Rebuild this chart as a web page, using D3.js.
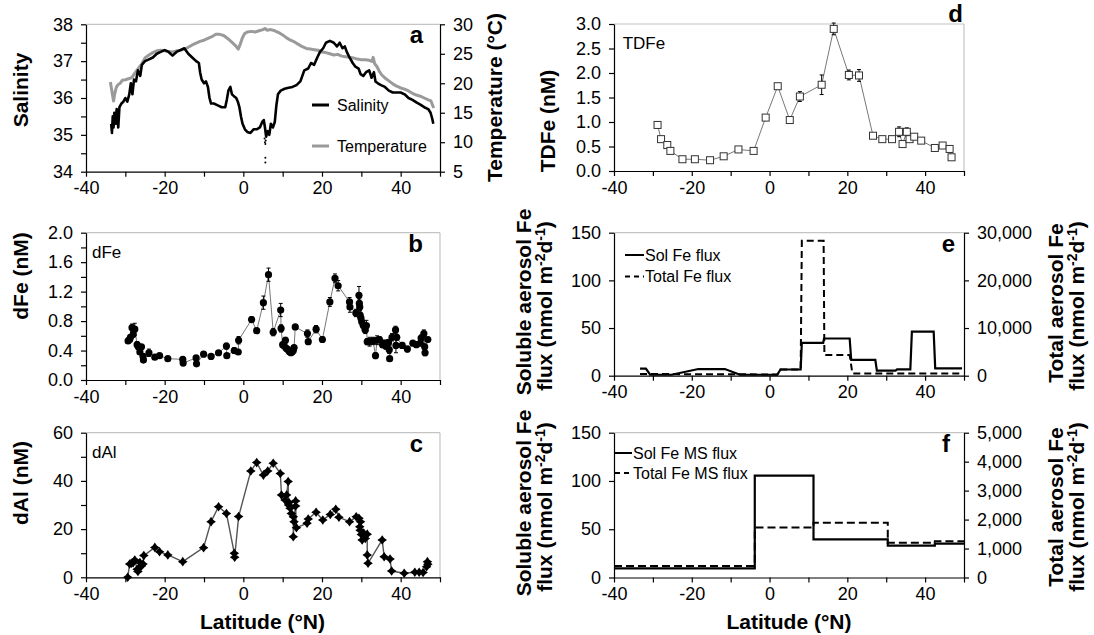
<!DOCTYPE html>
<html><head><meta charset="utf-8">
<script src="https://cdn.jsdelivr.net/npm/d3@7"></script>
<style>
body{margin:0;background:#fff;}
svg{font-family:"Liberation Sans",Arial,Helvetica,sans-serif;}
</style></head><body>
<svg id="c" width="1094" height="635"></svg>
<script>
// ---------- DATA ----------
const latTicks = [-40,-30,-20,-10,0,10,20,30,40,50];

// (a) underway salinity & temperature
const salLat = [-33.6,-33.4,-33.2,-33.0,-32.8,-32.5,-32.2,-31.8,-31.5,-31.0,-30.5,-30.0,-29.5,-29.0,-28.6,-28.2,-27.8,-27.3,-26.8,-26.2,-25.8,-25.0,-24.0,-23.0,-22.0,-21.0,-20.0,-19.0,-18.0,-17.0,-16.0,-15.0,-14.0,-13.0,-12.0,-11.3,-11.0,-10.6,-10.0,-9.5,-9.0,-8.6,-8.2,-7.5,-6.5,-5.5,-4.6,-4.2,-3.8,-3.3,-2.9,-2.4,-1.8,-1.4,-1.0,-0.6,-0.2,0.4,1.0,1.8,2.6,3.4,4.2,4.8,5.2,5.5,5.8,6.2,6.6,7.0,7.5,8.0,8.4,8.8,9.5,10.5,11.5,12.5,13.5,14.5,15.0,15.5,16.5,17.2,18.0,18.8,19.5,20.3,21.0,22.0,23.0,23.8,24.5,25.2,25.8,26.3,27.0,27.8,28.5,29.3,29.8,30.5,31.2,32.0,32.6,33.2,33.6,34.2,35.0,36.0,37.0,38.0,39.0,40.0,41.0,42.0,43.0,44.0,45.0,46.0,47.0,47.6,48.0,48.3];
const salVal = [35.3,35.05,35.5,35.2,35.6,35.3,35.7,35.2,35.75,35.85,35.9,36.0,35.9,36.1,36.4,36.1,36.5,36.45,36.75,36.6,36.9,37.0,37.05,37.1,37.2,37.25,37.3,37.25,37.15,37.25,37.3,37.35,37.2,37.1,37.0,36.95,36.7,36.5,36.4,36.45,36.3,36.0,35.85,35.85,35.8,35.75,35.75,35.95,36.2,36.3,36.1,36.05,36.0,35.9,35.75,35.5,35.3,35.15,35.08,35.05,35.15,35.15,35.2,35.35,35.4,35.2,34.95,35.1,35.0,35.3,35.2,35.35,35.8,36.1,36.2,36.25,36.28,36.3,36.35,36.45,36.6,36.75,36.8,36.95,36.9,37.1,37.25,37.35,37.5,37.55,37.5,37.4,37.5,37.35,37.4,37.25,37.1,36.95,36.85,36.8,36.65,36.6,36.7,36.75,36.55,36.7,36.45,36.4,36.35,36.3,36.2,36.15,36.15,36.15,36.1,36.0,35.95,35.88,35.82,35.75,35.7,35.6,35.45,35.3];
const salDotLat = [5.4,5.5,5.6,5.7,5.6,5.6];
const salDotVal = [34.9,34.8,34.75,34.85,34.38,34.25];
const tempLat = [-33.8,-33.5,-33.2,-33.0,-32.7,-32.3,-31.8,-31.3,-30.8,-30.0,-29.0,-28.3,-27.5,-26.6,-25.8,-25.0,-24.0,-23.0,-22.0,-21.0,-20.0,-19.0,-18.0,-17.0,-16.0,-15.0,-14.0,-13.0,-12.0,-11.0,-10.0,-9.0,-8.0,-7.0,-6.0,-5.0,-4.0,-3.0,-2.0,-1.3,-0.8,-0.3,0.3,1.0,2.0,3.0,4.0,5.0,5.5,6.0,7.0,8.0,9.0,10.0,11.0,12.0,13.0,14.0,15.0,16.0,17.0,18.0,19.0,20.0,21.0,22.0,23.0,24.0,25.0,26.0,27.0,28.0,29.0,30.0,31.0,32.0,32.7,33.0,33.4,34.0,34.6,35.2,36.0,37.0,38.0,39.0,40.0,41.0,42.0,43.0,44.0,45.0,46.0,47.0,47.7,48.1,48.4];
const tempVal = [20.2,19.0,17.8,17.0,18.2,19.3,19.8,20.0,20.5,20.6,20.8,21.0,21.8,22.6,23.3,24.3,24.8,25.2,25.5,25.6,25.5,25.4,25.3,25.5,25.6,25.8,26.1,26.5,26.8,27.1,27.3,27.6,27.9,28.3,28.3,28.1,27.6,27.0,26.4,25.8,26.6,27.6,28.4,28.7,28.8,28.7,28.9,29.1,29.3,29.0,29.1,28.9,28.6,28.2,27.7,27.3,27.0,26.6,26.2,25.9,25.8,25.7,25.6,25.3,25.2,25.0,24.8,24.9,24.6,24.5,24.4,24.3,24.1,24.0,24.0,23.9,23.7,24.4,23.3,22.8,22.0,21.4,20.9,20.4,19.9,19.5,19.2,19.0,18.7,18.3,18.0,17.8,17.5,17.2,17.0,16.3,15.8];

// (b) dFe
const dFeLat = [-29.3,-28.9,-28.7,-28.3,-28.0,-27.6,-27.0,-26.7,-26.3,-25.9,-25.5,-25.4,-24.0,-22.5,-21.3,-19.2,-15.4,-15.3,-12.0,-11.9,-10.1,-8.2,-6.3,-4.3,-4.2,-2.3,-1.3,-1.2,2.1,3.4,5.1,6.4,7.6,9.5,9.6,10.0,10.4,10.7,10.9,11.2,11.5,11.8,12.1,12.4,12.7,12.9,13.2,16.3,16.5,18.5,20.1,22.0,23.3,24.1,27.0,27.1,28.6,29.4,29.5,29.6,29.7,29.9,30.1,30.5,31.0,31.3,31.5,32.1,33.0,33.6,34.0,34.6,35.4,35.8,36.2,36.9,37.1,37.2,37.8,38.7,38.8,39.0,40.4,41.7,43.1,44.0,45.0,45.2,45.9,46.1,46.2,46.9];
const dFeVal = [0.53,0.55,0.58,0.71,0.62,0.69,0.48,0.45,0.38,0.45,0.32,0.27,0.37,0.31,0.33,0.29,0.28,0.23,0.30,0.22,0.35,0.32,0.37,0.46,0.33,0.40,0.38,0.54,0.82,0.67,1.05,1.43,0.65,0.95,0.70,0.48,0.46,0.54,0.43,0.42,0.40,0.38,0.37,0.38,0.40,0.44,0.72,0.63,0.52,0.69,0.55,1.06,1.38,1.28,1.06,0.99,0.91,1.15,1.04,0.99,0.88,0.84,0.79,0.74,0.68,0.74,0.52,0.52,0.53,0.33,0.54,0.55,0.48,0.50,0.46,0.51,0.41,0.29,0.58,0.68,0.47,0.58,0.47,0.42,0.50,0.48,0.50,0.57,0.63,0.45,0.37,0.55];
const dFeErr = [0.03,0.03,0.03,0.05,0.04,0.08,0.04,0.03,0.03,0.03,0.03,0.03,0.05,0.03,0.03,0.03,0.03,0.03,0.03,0.02,0.03,0.02,0.03,0.04,0.03,0.04,0.03,0.05,0.04,0.03,0.09,0.09,0.05,0.09,0.05,0.03,0.03,0.04,0.03,0.03,0.03,0.03,0.03,0.03,0.03,0.03,0.03,0.05,0.03,0.05,0.04,0.06,0.06,0.07,0.06,0.07,0.05,0.12,0.06,0.05,0.06,0.05,0.05,0.06,0.05,0.07,0.04,0.06,0.05,0.04,0.06,0.04,0.04,0.04,0.04,0.04,0.05,0.03,0.05,0.05,0.10,0.04,0.04,0.04,0.03,0.03,0.03,0.04,0.05,0.04,0.04,0.03];

// (c) dAl
const dAlLat = [-29.4,-28.9,-28.4,-28.0,-27.6,-27.0,-26.8,-26.3,-25.9,-25.5,-25.3,-22.5,-21.3,-19.2,-15.4,-10.1,-8.2,-6.3,-4.3,-2.3,-2.2,-1.2,1.9,3.4,5.1,6.2,7.6,9.4,9.7,10.6,11.0,11.4,11.5,11.6,11.9,12.2,12.7,12.7,12.9,13.3,13.3,13.5,16.2,16.5,18.5,20.2,22.1,23.5,24.3,27.0,28.7,29.4,29.6,29.7,29.8,30.0,30.2,30.6,31.0,31.5,31.5,31.7,35.3,35.8,37.3,37.7,40.9,43.6,44.7,45.7,46.6,46.8,46.9];
const dAlVal = [0,5.5,5.8,6.1,7.2,3.3,2.4,6.1,4.7,5.5,9.0,12.4,10.6,9.3,6.5,12.3,23.1,29.3,26.5,10.0,8.3,25.2,44.1,47.6,42.4,44.1,47.3,43.1,34.1,32.1,34.1,39.7,30.0,31.0,28.6,26.5,25.1,16.8,23.1,31.7,29.6,20.6,22.4,24.2,27.0,23.8,26.1,28.2,24.9,23.1,25.1,24.5,21.0,19.5,23.0,17.8,15.5,18.4,16.1,17.9,9.3,5.8,15.5,8.5,7.6,2.6,1.7,2.1,2.1,2.0,4.4,6.5,5.4];

// (d) TDFe
const tdfeLat = [-28.8,-27.9,-26.3,-25.5,-22.4,-19.2,-15.3,-11.8,-8.0,-4.1,-1.0,2.1,5.2,7.8,13.4,16.5,20.4,23.0,26.6,29.0,31.5,33.3,34.2,35.3,36.0,37.2,39.0,42.5,44.5,46.3,46.8];
const tdfeVal = [0.94,0.65,0.53,0.41,0.24,0.24,0.22,0.30,0.44,0.41,1.09,1.73,1.04,1.52,1.76,2.90,1.96,1.95,0.72,0.65,0.65,0.80,0.55,0.80,0.65,0.70,0.62,0.47,0.52,0.45,0.28];
const tdfeErr = [0.07,0.03,0.03,0.03,0.02,0.02,0.02,0.02,0.03,0.03,0.03,0.05,0.07,0.10,0.20,0.12,0.10,0.12,0.03,0.03,0.03,0.10,0.05,0.08,0.05,0.03,0.03,0.03,0.03,0.06,0.03];

// (e) aerosol fluxes along track
const solLat = [-33.3,-31.8,-30.7,-25.2,-18.3,-11.5,-7.6,2.0,2.8,8.0,8.3,13.8,14.0,20.6,21.0,27.2,27.6,32.4,32.8,36.2,36.6,42.2,42.6,49.5];
const solVal = [7.5,7.5,1,1,7,7,1,1,6.5,6.5,34.5,34.5,39,39,16.5,16.5,5.3,5.3,6.7,6.7,46.2,46.2,7.7,7.7];
const totLat = [-33.3,-7.6,2.0,2.8,8.0,8.3,13.9,14.1,20.6,21.3,49.5];
const totVal = [350,300,250,1300,1300,28300,28300,4340,4340,450,450];

// (f) MS fluxes (bin edges and values)
const msEdges = [-40,-3.8,11.3,30.4,42.5,50];
const msSol = [9.5,105.5,39.5,33,35];
const msTot = [400,1730,1890,1200,1250];

// ---------- DRAW ----------
const svg = d3.select("#c");

function makePanel(o){
  const x = d3.scaleLinear().domain([-40,50]).range([o.x0,o.x1]);
  const y = d3.scaleLinear().domain(o.yDom).range([o.bot,o.top]);
  const y2 = o.y2Dom ? d3.scaleLinear().domain(o.y2Dom).range([o.bot,o.top]) : null;
  const g = svg.append("g");
  g.append("line").attr("x1",o.x0).attr("x2",o.x1).attr("y1",o.top).attr("y2",o.top)
    .attr("stroke","#c4c4c4").attr("stroke-width",1.2);
  if(!y2) g.append("line").attr("x1",o.x1).attr("x2",o.x1).attr("y1",o.top).attr("y2",o.bot)
    .attr("stroke","#c4c4c4").attr("stroke-width",1.2);
  const axes = [];
  axes.push(g.append("g").attr("transform",`translate(0,${o.bot})`)
    .call(d3.axisBottom(x).tickValues(latTicks).tickFormat(d=>d%20===0?String(d):"")
      .tickSize(5).tickSizeOuter(0).tickPadding(5)));
  axes.push(g.append("g").attr("transform",`translate(${o.x0},0)`)
    .call(d3.axisLeft(y).tickValues(o.yTicks).tickFormat(o.yFmt).tickSize(5).tickSizeOuter(0).tickPadding(8)));
  if(y2) axes.push(g.append("g").attr("transform",`translate(${o.x1},0)`)
    .call(d3.axisRight(y2).tickValues(o.y2Ticks).tickFormat(o.y2Fmt).tickSize(5).tickSizeOuter(0).tickPadding(8)));
  axes.forEach(a=>{
    a.attr("font-size",18).attr("font-family",null);
    a.selectAll("text").attr("fill","#000");
    a.selectAll("line,path").attr("stroke","#000").attr("stroke-width",1.2);
  });
  return {x,y,y2,g};
}
const near = (d,s)=>Math.abs(d/s-Math.round(d/s))<1e-6;

// Panel a
const pa = makePanel({x0:86,x1:440,top:24.3,bot:171.7,yDom:[34,38],
  yTicks:d3.range(34,38.01,0.5),yFmt:d=>near(d,1)?String(Math.round(d)):"",
  y2Dom:[5,30],y2Ticks:[5,10,15,20,25,30],y2Fmt:d=>String(d)});
pa.g.append("path").datum(tempLat.map((d,i)=>[d,tempVal[i]]))
  .attr("d",d3.line().x(d=>pa.x(d[0])).y(d=>pa.y2(d[1])))
  .attr("fill","none").attr("stroke","#9a9a9a").attr("stroke-width",3).attr("stroke-linejoin","round");
pa.g.append("path").datum(salLat.map((d,i)=>[d,salVal[i]]))
  .attr("d",d3.line().x(d=>pa.x(d[0])).y(d=>pa.y(d[1])))
  .attr("fill","none").attr("stroke","#000").attr("stroke-width",2.6).attr("stroke-linejoin","round");
pa.g.selectAll(".sd").data(salDotLat).enter().append("circle")
  .attr("cx",(d)=>pa.x(d)).attr("cy",(d,i)=>pa.y(salDotVal[i])).attr("r",1).attr("fill","#000");
// legend a
pa.g.append("line").attr("x1",312).attr("x2",329).attr("y1",105).attr("y2",105).attr("stroke","#000").attr("stroke-width",3);
pa.g.append("text").attr("x",337).attr("y",110.5).attr("font-size",16).text("Salinity");
pa.g.append("line").attr("x1",312).attr("x2",329).attr("y1",146).attr("y2",146).attr("stroke","#9a9a9a").attr("stroke-width",3);
pa.g.append("text").attr("x",337).attr("y",151.5).attr("font-size",16).text("Temperature");

// Panel b
const pb = makePanel({x0:86,x1:440,top:232.7,bot:380,yDom:[0,2],
  yTicks:d3.range(0,2.01,0.2),yFmt:d=>near(d,0.4)?d3.format(".1f")(d):""});
pb.g.append("path").datum(dFeLat.map((d,i)=>[d,dFeVal[i]]))
  .attr("d",d3.line().x(d=>pb.x(d[0])).y(d=>pb.y(d[1])))
  .attr("fill","none").attr("stroke","#777").attr("stroke-width",1);
dFeLat.forEach((d,i)=>{
  const cx=pb.x(d), y1=pb.y(dFeVal[i]-dFeErr[i]), y2=pb.y(dFeVal[i]+dFeErr[i]);
  pb.g.append("path").attr("d",`M${cx},${y1}V${y2}M${cx-2},${y1}H${cx+2}M${cx-2},${y2}H${cx+2}`)
    .attr("stroke","#000").attr("stroke-width",1).attr("fill","none");
});
pb.g.selectAll(".m").data(dFeLat).enter().append("circle")
  .attr("cx",d=>pb.x(d)).attr("cy",(d,i)=>pb.y(dFeVal[i])).attr("r",3.6).attr("fill","#000");
pb.g.append("text").attr("x",92).attr("y",258).attr("font-size",17).text("dFe");

// Panel c
const pc = makePanel({x0:86,x1:440,top:432.7,bot:577.3,yDom:[0,60],
  yTicks:d3.range(0,61,10),yFmt:d=>d%20===0?String(d):""});
pc.g.append("path").datum(dAlLat.map((d,i)=>[d,dAlVal[i]]))
  .attr("d",d3.line().x(d=>pc.x(d[0])).y(d=>pc.y(d[1])))
  .attr("fill","none").attr("stroke","#555").attr("stroke-width",1.4);
const star = "M0,-4.8L2,-2L4.8,0L2,2L0,4.8L-2,2L-4.8,0L-2,-2Z";
pc.g.selectAll(".m").data(dAlLat).enter().append("path")
  .attr("transform",(d,i)=>`translate(${pc.x(d)},${pc.y(dAlVal[i])})`)
  .attr("d",star).attr("fill","#000");
pc.g.append("text").attr("x",92).attr("y",457.7).attr("font-size",17).text("dAl");

// Panel d
const pd = makePanel({x0:614,x1:964,top:24,bot:171,yDom:[0,3],
  yTicks:d3.range(0,3.01,0.5),yFmt:d3.format(".1f")});
pd.g.append("path").datum(tdfeLat.map((d,i)=>[d,tdfeVal[i]]))
  .attr("d",d3.line().x(d=>pd.x(d[0])).y(d=>pd.y(d[1])))
  .attr("fill","none").attr("stroke","#777").attr("stroke-width",1);
tdfeLat.forEach((d,i)=>{
  const cx=pd.x(d), y1=pd.y(tdfeVal[i]-tdfeErr[i]), y2=pd.y(tdfeVal[i]+tdfeErr[i]);
  pd.g.append("path").attr("d",`M${cx},${y1}V${y2}M${cx-2},${y1}H${cx+2}M${cx-2},${y2}H${cx+2}`)
    .attr("stroke","#000").attr("stroke-width",1).attr("fill","none");
});
pd.g.selectAll(".m").data(tdfeLat).enter().append("rect")
  .attr("x",d=>pd.x(d)-3.5).attr("y",(d,i)=>pd.y(tdfeVal[i])-3.5).attr("width",7).attr("height",7)
  .attr("fill","#fff").attr("stroke","#333").attr("stroke-width",1);
pd.g.append("text").attr("x",622.7).attr("y",49).attr("font-size",17).text("TDFe");

// Panel e
const pe = makePanel({x0:614,x1:964,top:232.7,bot:375.7,yDom:[0,150],
  yTicks:[0,50,100,150],yFmt:d=>String(d),
  y2Dom:[0,30000],y2Ticks:[0,10000,20000,30000],y2Fmt:d3.format(",")});
pe.g.append("path").datum(totLat.map((d,i)=>[d,totVal[i]]))
  .attr("d",d3.line().x(d=>pe.x(d[0])).y(d=>pe.y2(d[1])))
  .attr("fill","none").attr("stroke","#000").attr("stroke-width",2).attr("stroke-dasharray","7,4");
pe.g.append("path").datum(solLat.map((d,i)=>[d,solVal[i]]))
  .attr("d",d3.line().x(d=>pe.x(d[0])).y(d=>pe.y(d[1])))
  .attr("fill","none").attr("stroke","#000").attr("stroke-width",2.2);
pe.g.append("line").attr("x1",625).attr("x2",644).attr("y1",255).attr("y2",255).attr("stroke","#000").attr("stroke-width",2);
pe.g.append("text").attr("x",645).attr("y",261).attr("font-size",16).text("Sol Fe flux");
pe.g.append("line").attr("x1",625).attr("x2",644).attr("y1",276.5).attr("y2",276.5).attr("stroke","#000").attr("stroke-width",2).attr("stroke-dasharray","5,4");
pe.g.append("text").attr("x",645).attr("y",282).attr("font-size",16).text("Total Fe flux");

// Panel f
const pf = makePanel({x0:614,x1:964,top:432.7,bot:577.5,yDom:[0,150],
  yTicks:[0,50,100,150],yFmt:d=>String(d),
  y2Dom:[0,5000],y2Ticks:[0,1000,2000,3000,4000,5000],y2Fmt:d3.format(",")});
const stepPts = vals => msEdges.map((e,i)=>[e, vals[Math.min(i,vals.length-1)]]);
pf.g.append("path").datum(stepPts(msTot))
  .attr("d",d3.line().curve(d3.curveStepAfter).x(d=>pf.x(d[0])).y(d=>pf.y2(d[1])))
  .attr("fill","none").attr("stroke","#000").attr("stroke-width",2).attr("stroke-dasharray","8,4");
pf.g.append("path").datum(stepPts(msSol))
  .attr("d",d3.line().curve(d3.curveStepAfter).x(d=>pf.x(d[0])).y(d=>pf.y(d[1])))
  .attr("fill","none").attr("stroke","#000").attr("stroke-width",2.2);
pf.g.append("line").attr("x1",615).attr("x2",632).attr("y1",453).attr("y2",453).attr("stroke","#000").attr("stroke-width",2);
pf.g.append("text").attr("x",633).attr("y",459).attr("font-size",16).text("Sol Fe MS flux");
pf.g.append("line").attr("x1",615).attr("x2",632).attr("y1",473).attr("y2",473).attr("stroke","#000").attr("stroke-width",2).attr("stroke-dasharray","5,4");
pf.g.append("text").attr("x",633).attr("y",479).attr("font-size",16).text("Total Fe MS flux");

// Panel letters
[["a",423,43],["b",423,252],["c",423,452],["d",963,22],["e",955,252],["f",950,452]].forEach(p=>{
  svg.append("text").attr("x",p[1]).attr("y",p[2]).attr("text-anchor","end")
    .attr("font-weight","bold").attr("font-size",24).text(p[0]);
});

// Axis titles
function vText(x,y,segs){
  const t = svg.append("text").attr("transform",`translate(${x},${y}) rotate(-90)`)
    .attr("text-anchor","middle").attr("font-weight","bold").attr("font-size",21);
  let up=false;
  segs.forEach(s=>{
    if(typeof s==="string"){ const ts=t.append("tspan").text(s); if(up){ts.attr("dy",7);up=false;} }
    else { t.append("tspan").attr("dy",-7).attr("font-size",14).text(s.sup); up=true; }
  });
}
const fluxSegs = ["flux (nmol m",{sup:"-2"},"d",{sup:"-1"},")"];
vText(28,90,["Salinity"]);
vText(28,276,["dFe (nM)"]);
vText(28,483,["dAl (nM)"]);
vText(502,97.5,["Temperature (°C)"]);
vText(555,121,["TDFe (nM)"]);
vText(531,302,["Soluble aerosol Fe"]);
vText(552,306,fluxSegs);
vText(1063,303,["Total aerosol Fe"]);
vText(1084,306,fluxSegs);
vText(531,503,["Soluble aerosol Fe"]);
vText(552,507,fluxSegs);
vText(1063,507,["Total aerosol Fe"]);
vText(1084,507,fluxSegs);
svg.append("text").attr("x",262.5).attr("y",629).attr("text-anchor","middle").attr("font-weight","bold").attr("font-size",21).text("Latitude (°N)");
svg.append("text").attr("x",789).attr("y",629).attr("text-anchor","middle").attr("font-weight","bold").attr("font-size",21).text("Latitude (°N)");
</script></body></html>
